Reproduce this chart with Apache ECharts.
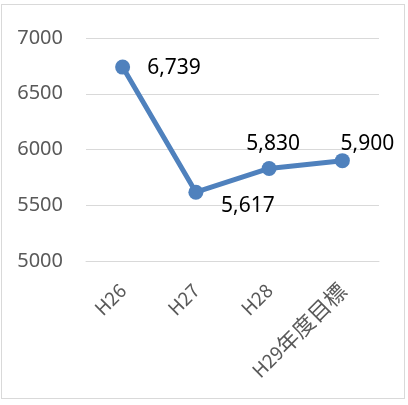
<!DOCTYPE html>
<html><head><meta charset="utf-8">
<script src="https://cdn.jsdelivr.net/npm/echarts@6/dist/echarts.min.js"></script>
<style>
html,body{margin:0;padding:0;background:#fff;}
#frame{position:absolute;left:1px;top:4px;width:404px;height:395px;border:1px solid #d9d9d9;box-sizing:border-box;}
#c{position:absolute;left:0;top:0;width:408px;height:405px;}
</style></head>
<body><div id="frame"></div><div id="c"></div>
<script>
var categories = ['H26', 'H27', 'H28', 'H29年度目標'];
var values = [6739, 5617, 5830, 5900];
var yTicks = [5000, 5500, 6000, 6500, 7000];

var labelPos = [
  {position: 'right', offset: [12, 1]},
  {position: 'bottom', offset: [52, -9]},
  {position: 'top', offset: [4, -1.5]},
  {position: 'top', offset: [25, 6]}
];

var chart = echarts.init(document.getElementById('c'));
chart.setOption({
  animation: false,
  grid: {left: 86, right: 29, top: 38, bottom: 144, containLabel: false},
  xAxis: {
    type: 'category', data: categories, boundaryGap: true,
    axisLine: {show: true, lineStyle: {color: '#d9d9d9', width: 1}},
    axisTick: {show: false},
    axisLabel: {rotate: 45, color: '#595959', fontSize: 19, fontFamily: 'Noto Sans CJK JP', margin: 26, interval: 0,
      formatter: function (v) {
        return v.replace(/([^\x00-\x7f]+)/g, '{cjk|$1}');
      },
      rich: {cjk: {fontSize: 22, color: '#595959', fontFamily: 'Noto Sans CJK JP'}}
    }
  },
  yAxis: {
    type: 'value', min: yTicks[0], max: yTicks[yTicks.length - 1], interval: 500,
    axisLine: {show: false}, axisTick: {show: false},
    splitLine: {lineStyle: {color: '#d9d9d9', width: 1}},
    axisLabel: {color: '#595959', fontSize: 20, fontFamily: 'Noto Sans', margin: 23,
      formatter: function (v) { return String(v); }}
  },
  series: [{
    type: 'line', symbol: 'circle', symbolSize: 15,
    lineStyle: {color: '#4f81bd', width: 5},
    itemStyle: {color: '#4f81bd'},
    data: values.map(function (v, i) {
      return {value: v, label: {show: true, position: labelPos[i].position, offset: labelPos[i].offset}};
    }),
    label: {
      show: true, color: '#000', fontSize: 21, fontFamily: 'Noto Sans',
      formatter: function (p) { return p.value.toLocaleString('en-US'); }
    }
  }]
});
</script></body></html>
